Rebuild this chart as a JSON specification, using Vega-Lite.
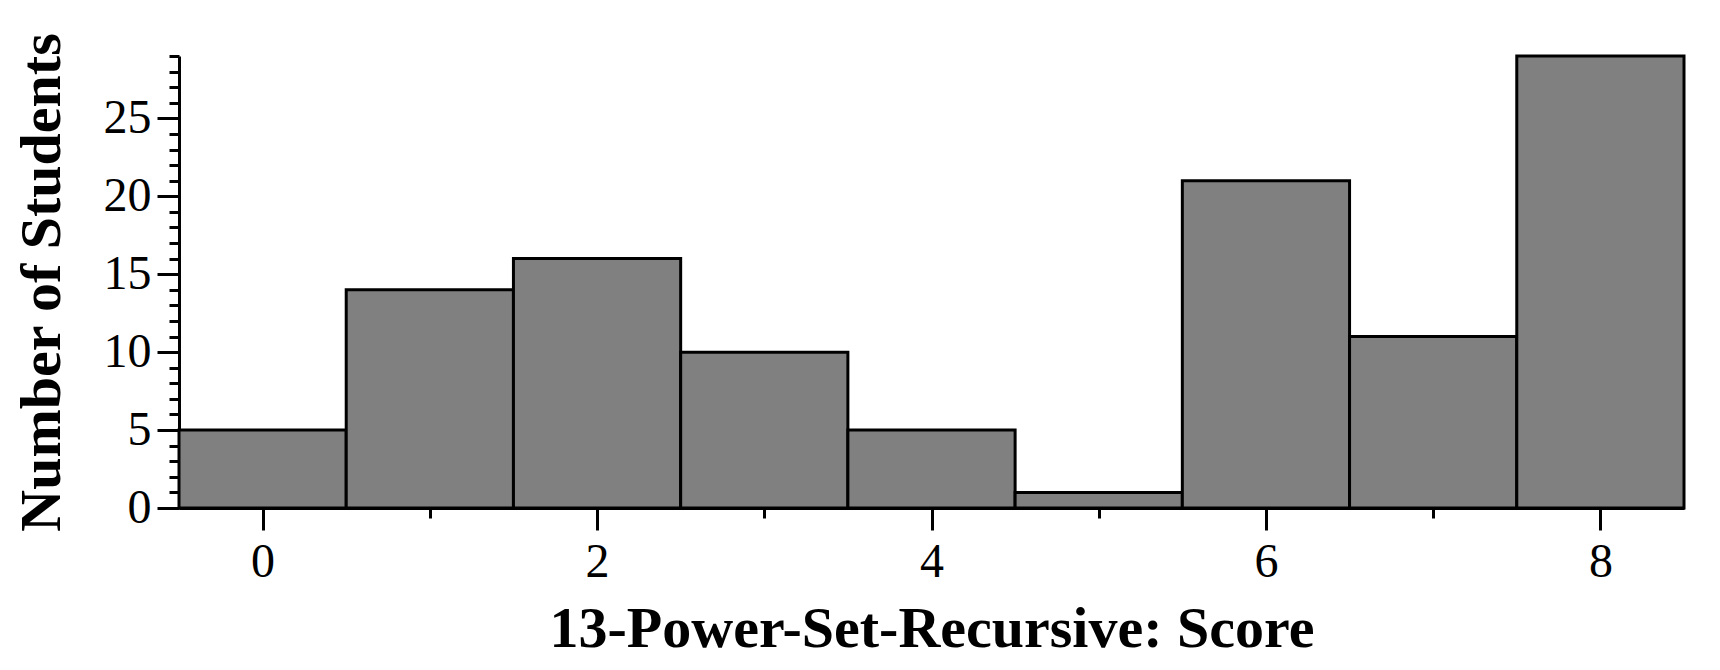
{
  "$schema": "https://vega.github.io/schema/vega-lite/v6.json",
  "width": 1505,
  "height": 452,
  "autosize": "none",
  "padding": {"left": 179, "top": 56, "right": 36, "bottom": 162},
  "background": "white",
  "data": {
    "values": [
      {"score": 0, "lo": -0.5, "hi": 0.5, "count": 5},
      {"score": 1, "lo": 0.5, "hi": 1.5, "count": 14},
      {"score": 2, "lo": 1.5, "hi": 2.5, "count": 16},
      {"score": 3, "lo": 2.5, "hi": 3.5, "count": 10},
      {"score": 4, "lo": 3.5, "hi": 4.5, "count": 5},
      {"score": 5, "lo": 4.5, "hi": 5.5, "count": 1},
      {"score": 6, "lo": 5.5, "hi": 6.5, "count": 21},
      {"score": 7, "lo": 6.5, "hi": 7.5, "count": 11},
      {"score": 8, "lo": 7.5, "hi": 8.5, "count": 29}
    ]
  },
  "mark": {"type": "bar", "fill": "#808080", "stroke": "black", "strokeWidth": 3},
  "encoding": {
    "x": {
      "field": "lo",
      "type": "quantitative",
      "scale": {"domain": [-0.5, 8.5], "nice": false, "zero": false},
      "axis": {
        "title": "13-Power-Set-Recursive: Score",
        "values": [0, 1, 2, 3, 4, 5, 6, 7, 8],
        "labelExpr": "datum.value % 2 == 0 ? datum.label : ''",
        "tickSize": {"condition": {"test": "datum.value % 2 == 0", "value": 22}, "value": 10},
        "labelPadding": 8,
        "titlePadding": 14
      }
    },
    "x2": {"field": "hi"},
    "y": {
      "field": "count",
      "type": "quantitative",
      "scale": {"domain": [0, 29], "nice": false},
      "axis": {
        "title": "Number of Students",
        "values": [0, 1, 2, 3, 4, 5, 6, 7, 8, 9, 10, 11, 12, 13, 14, 15, 16, 17, 18, 19, 20, 21, 22, 23, 24, 25, 26, 27, 28, 29],
        "labelExpr": "datum.value % 5 == 0 ? datum.label : ''",
        "tickSize": {"condition": {"test": "datum.value % 5 == 0", "value": 22}, "value": 10},
        "labelPadding": 6,
        "titlePadding": 32
      }
    },
    "y2": {"datum": 0}
  },
  "config": {
    "view": {"stroke": null},
    "axis": {
      "grid": false,
      "domainColor": "black",
      "domainWidth": 3,
      "tickColor": "black",
      "tickWidth": 3,
      "labelOverlap": false,
      "labelFlush": false,
      "labelFont": "Liberation Serif",
      "labelFontSize": 48,
      "labelColor": "black",
      "titleFont": "Liberation Serif",
      "titleFontSize": 58,
      "titleFontWeight": "bold",
      "titleColor": "black"
    }
  }
}
